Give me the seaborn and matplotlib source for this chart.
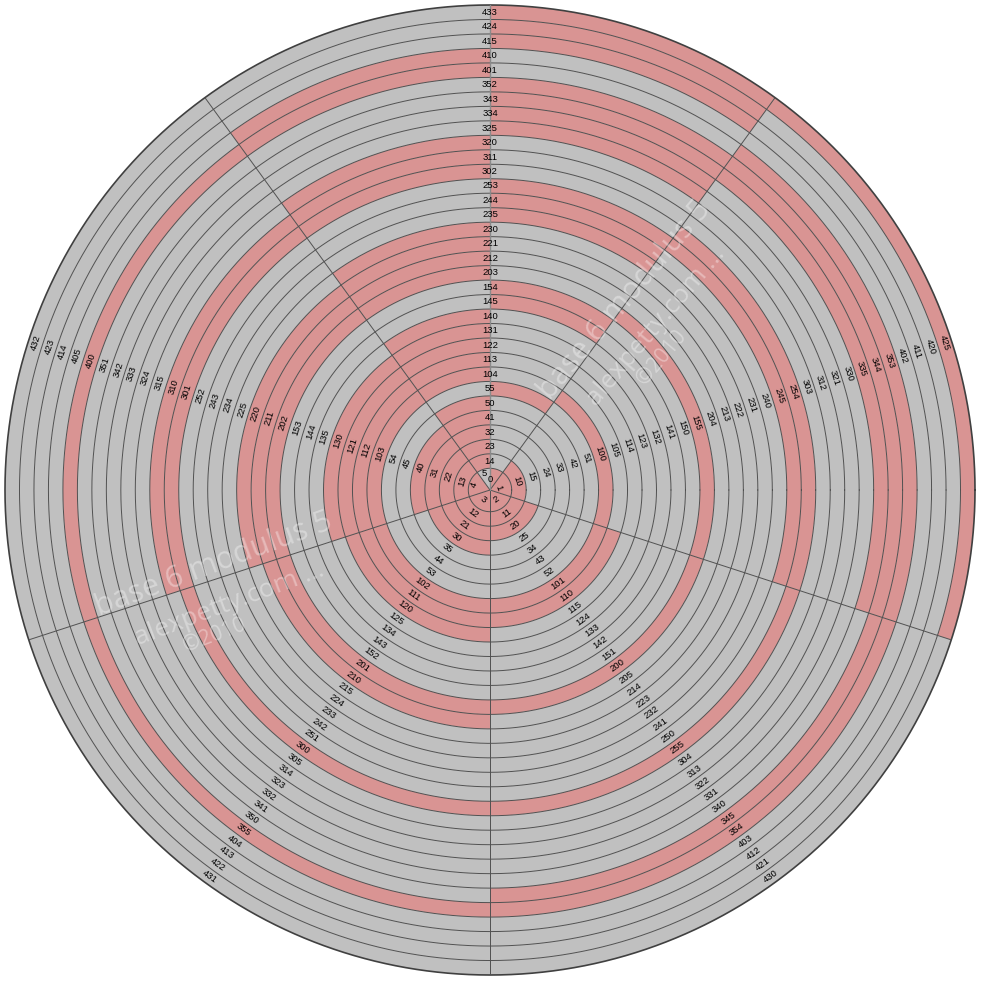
import numpy as np
import pandas as pd
import matplotlib.pyplot as plt
import seaborn as sns

# base 6 numbers, modulus 5 wheel: one list per residue sector (rings 1..33)
labels_0 = ["5", "14", "23", "32", "41", "50", "55", "104", "113", "122", "131", "140", "145", "154",
            "203", "212", "221", "230", "235", "244", "253", "302", "311", "320", "325", "334", "343",
            "352", "401", "410", "415", "424", "433"]
labels_1 = ["1", "10", "15", "24", "33", "42", "51", "100", "105", "114", "123", "132", "141", "150",
            "155", "204", "213", "222", "231", "240", "245", "254", "303", "312", "321", "330", "335",
            "344", "353", "402", "411", "420", "425"]
labels_2 = ["2", "11", "20", "25", "34", "43", "52", "101", "110", "115", "124", "133", "142", "151",
            "200", "205", "214", "223", "232", "241", "250", "255", "304", "313", "322", "331", "340",
            "345", "354", "403", "412", "421", "430"]
labels_3 = ["3", "12", "21", "30", "35", "44", "53", "102", "111", "120", "125", "134", "143", "152",
            "201", "210", "215", "224", "233", "242", "251", "300", "305", "314", "323", "332", "341",
            "350", "355", "404", "413", "422", "431"]
labels_4 = ["4", "13", "22", "31", "40", "45", "54", "103", "112", "121", "130", "135", "144", "153",
            "202", "211", "220", "225", "234", "243", "252", "301", "310", "315", "324", "333", "342",
            "351", "400", "405", "414", "423", "432"]

# 1 = pink cell, 0 = grey cell, ring 1 first
pink_top_right = "1000001" + "0000011" + "0000111" + "0001111" + "00111"
pink_top_left = "0111110" + "1111100" + "1111000" + "1110000" + "11000"
pink_1 = "1100000" + "1000000" + "1000001" + "1000011" + "10001"
pink_2 = "1110000" + "1100000" + "1000000" + "1000001" + "10000"
pink_3 = "1111000" + "1110000" + "1100000" + "1000000" + "10000"
pink_4 = "1111100" + "1111000" + "1110000" + "1100000" + "10000"

sector_center = [90, 18, -54, -126, 162]
boundaries = [54, 126, 198, 270, 342]

PINK = "#d99493"
GREY = "#c0c0c0"

rows = []
for k, (labs, pk) in enumerate([(labels_1, pink_1), (labels_2, pink_2),
                                (labels_3, pink_3), (labels_4, pink_4)], start=1):
    for i, p in enumerate(pk):
        rows.append(dict(theta=sector_center[k], width=72, ring=i + 1, pink=p == "1"))
for i in range(33):
    rows.append(dict(theta=72, width=36, ring=i + 1, pink=pink_top_right[i] == "1"))
    rows.append(dict(theta=108, width=36, ring=i + 1, pink=pink_top_left[i] == "1"))
cells = pd.DataFrame(rows)
cells["bottom"] = np.where(cells.ring == 1, 0.0, cells.ring - 0.5)
cells["height"] = np.where(cells.ring == 1, 1.5, 1.0)

sns.set_style("white")
plt.rcParams['font.family'] = ['Liberation Sans', 'DejaVu Sans']

fig = plt.figure(figsize=(9.84, 9.82), dpi=100)
ax = fig.add_axes([5 / 984, 7 / 982, 970 / 984, 970 / 982], projection='polar')

ax.bar(np.radians(cells.theta), cells.height, width=np.radians(cells.width),
       bottom=cells.bottom, color=np.where(cells.pink, PINK, GREY),
       linewidth=0, align='center')

th = np.linspace(0, 2 * np.pi, 1441)
for r in np.arange(1.5, 33.0, 1.0):
    ax.plot(th, np.full_like(th, r), color='#505050', lw=0.7)
ax.plot(th, np.full_like(th, 33.5), color='#404040', lw=1.2, clip_on=False)
for a in boundaries:
    ax.plot([np.radians(a)] * 2, [0, 33.5], color='#505050', lw=0.7)
ax.plot([np.radians(90)] * 2, [0, 33.5], color='#8a8a8a', lw=1.0)

# ring labels
inner_r = {0: 1.17, 1: 0.6, 2: 0.78, 3: 0.85, 4: 1.17}
for k, labs in enumerate([labels_0, labels_1, labels_2, labels_3, labels_4]):
    c = sector_center[k]
    rot = c - 90
    if rot <= -90:
        rot += 180
    for i, lab in enumerate(labs):
        r = i + 1
        ang = c
        if r == 1:
            r = inner_r[k]
            if k == 0:
                ang = 108
        ax.text(np.radians(ang), r, lab, rotation=rot, rotation_mode='anchor',
                ha='center', va='center', fontsize=6.8, color='black')
ax.text(np.radians(90), 0.7, "0", ha='center', va='center', fontsize=6.8, color='black')

ax.set_ylim(0, 33.5)
ax.set_axis_off()

# faint watermark, two copies
wm = dict(color='white', alpha=0.35, ha='center', va='center',
          rotation_mode='anchor', family=['Open Sans', 'DejaVu Sans'])
for (x1, y1), (x2, y2), (x3, y3), rot in [((214, 565), (229, 604), (215, 635), 20.5),
                                          ((625, 300), (656, 326), (662, 358), 49.8)]:
    fig.text(x1 / 984, 1 - y1 / 982, "base 6 modulus 5", rotation=rot, fontsize=22, **wm)
    fig.text(x2 / 984, 1 - y2 / 982, "alexpetty.com ...", rotation=rot, fontsize=19, **wm)
    fig.text(x3 / 984, 1 - y3 / 982, "\u00a92010", rotation=rot, fontsize=15, **wm)

fig.savefig("out.png", dpi=100, facecolor='white')
